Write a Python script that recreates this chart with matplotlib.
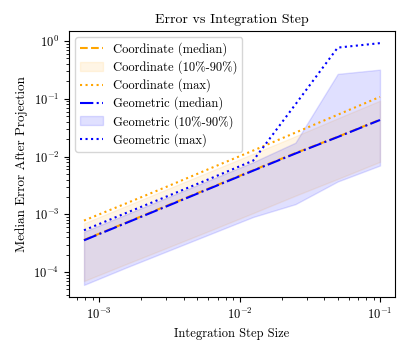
import matplotlib

matplotlib.use("Agg")
import matplotlib.pyplot as plt

plt.rcParams["font.family"] = "serif"
plt.rcParams["font.serif"] = ["cmr10"]
plt.rcParams["mathtext.fontset"] = "cm"
plt.rcParams["axes.formatter.use_mathtext"] = True

step_sizes = [0.00078125, 0.0015625, 0.003125, 0.00625, 0.0125, 0.025, 0.05, 0.1]

coord_median = [3.6e-4, 7.2e-4, 1.45e-3, 2.9e-3, 5.8e-3, 1.15e-2, 2.2e-2, 4.35e-2]
coord_p10 = [7.0e-5, 1.38e-4, 2.7e-4, 5.3e-4, 1.05e-3, 2.1e-3, 4.1e-3, 8.1e-3]
coord_p90 = [7.0e-4, 1.4e-3, 2.8e-3, 5.6e-3, 1.12e-2, 2.25e-2, 4.6e-2, 9.3e-2]
coord_max = [7.8e-4, 1.55e-3, 3.1e-3, 6.3e-3, 1.27e-2, 2.6e-2, 5.3e-2, 1.08e-1]

geo_median = [3.55e-4, 7.1e-4, 1.42e-3, 2.85e-3, 5.7e-3, 1.13e-2, 2.18e-2, 4.3e-2]
geo_p10 = [6.0e-5, 1.2e-4, 2.35e-4, 4.6e-4, 9.0e-4, 1.5e-3, 3.7e-3, 7.0e-3]
geo_p90 = [5.0e-4, 1.0e-3, 2.0e-3, 4.0e-3, 8.0e-3, 1.74e-2, 2.7e-1, 3.2e-1]
geo_max = [5.3e-4, 1.06e-3, 2.1e-3, 4.2e-3, 8.5e-3, 8.0e-2, 7.7e-1, 9.2e-1]

fig = plt.figure(figsize=(4.07, 3.49), dpi=100)
ax = fig.add_axes([0.170, 0.149, 0.800, 0.762])

ax.plot(step_sizes, coord_median, "--", color="orange", lw=1.5, label="Coordinate (median)")
ax.fill_between(step_sizes, coord_p10, coord_p90, color="orange", alpha=0.1,
                label="Coordinate (10%-90%)")
ax.plot(step_sizes, coord_max, ":", color="orange", lw=1.5, label="Coordinate (max)")
ax.plot(step_sizes, geo_median, "-.", color="blue", lw=1.5, label="Geometric (median)")
ax.fill_between(step_sizes, geo_p10, geo_p90, color="blue", alpha=0.12,
                label="Geometric (10%-90%)")
ax.plot(step_sizes, geo_max, ":", color="blue", lw=1.5, label="Geometric (max)")

ax.set_xscale("log")
ax.set_yscale("log")
ax.set_xlabel("Integration Step Size", fontsize=9)
ax.set_ylabel("Median Error After Projection", fontsize=9.5)
ax.set_title("Error vs Integration Step", fontsize=10)
ax.tick_params(labelsize=9)
ax.legend(loc="upper left", fontsize=9, labelspacing=0.35, handlelength=1.8)

fig.savefig("out.png", dpi=100)
